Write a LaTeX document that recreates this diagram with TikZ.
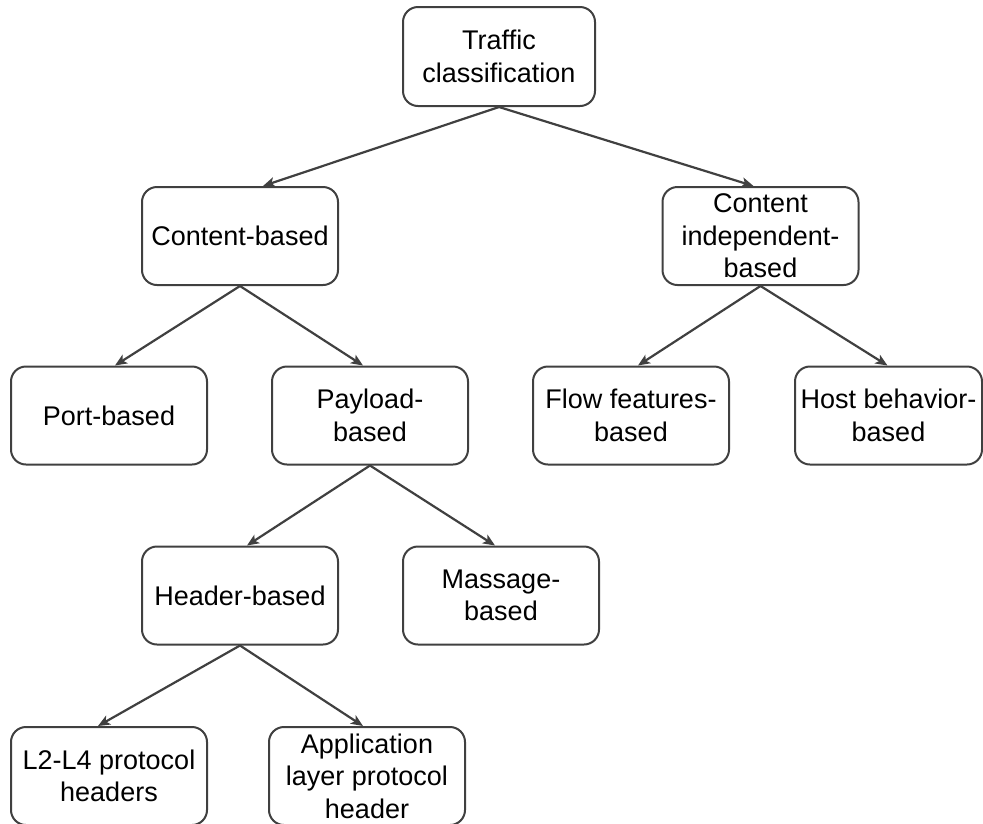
\documentclass[tikz,border=0pt]{standalone}
\usepackage{fontspec}
\setmainfont{Liberation Sans}
\usetikzlibrary{arrows.meta}
\definecolor{edge}{HTML}{404040}
\begin{document}
\begin{tikzpicture}[x=1pt,y=-1pt,
  box/.style={draw=edge, line width=2pt, rounded corners=15pt, fill=white,
    minimum width=196pt, minimum height=98pt, align=center,
    font=\fontsize{27}{32.5}\selectfont, inner sep=0pt},
  link/.style={draw=edge, line width=2.2pt, -{Stealth[length=12pt,width=10pt,inset=3pt]}}]
\useasboundingbox (0,0) rectangle (983,823);
\node[box, minimum width=192pt, minimum height=99pt] (tc) at (499,56.5) {Traffic\\classification};
\node[box] (cb) at (240,236) {Content-based};
\node[box] (ci) at (760.5,236) {Content\\independent-\\based};
\node[box] (pb) at (109,415.5) {Port-based};
\node[box] (pl) at (370,415.5) {Payload-\\based};
\node[box] (ff) at (631,415.5) {Flow features-\\based};
\node[box, minimum width=187pt] (hb) at (888.5,415.5) {Host behavior-\\based};
\node[box] (hd) at (240,595.5) {Header-based};
\node[box] (mb) at (501,595.5) {Massage-\\based};
\node[box] (l2) at (109,776) {L2-L4 protocol\\headers};
\node[box] (ap) at (367,776) {Application\\layer protocol\\header};
\draw[link] (tc.south) -- ([xshift=23pt]cb.north);
\draw[link] (tc.south) -- ([xshift=-7pt]ci.north);
\draw[link] (cb.south) -- ([xshift=6pt]pb.north);
\draw[link] (cb.south) -- ([xshift=-7pt]pl.north);
\draw[link] (ci.south) -- ([xshift=7pt]ff.north);
\draw[link] (ci.south) -- ([xshift=-1pt]hb.north);
\draw[link] (pl.south) -- ([xshift=7pt]hd.north);
\draw[link] (pl.south) -- ([xshift=-6pt]mb.north);
\draw[link] (hd.south) -- ([xshift=-11pt]l2.north);
\draw[link] (hd.south) -- ([xshift=-4pt]ap.north);
\end{tikzpicture}
\end{document}
